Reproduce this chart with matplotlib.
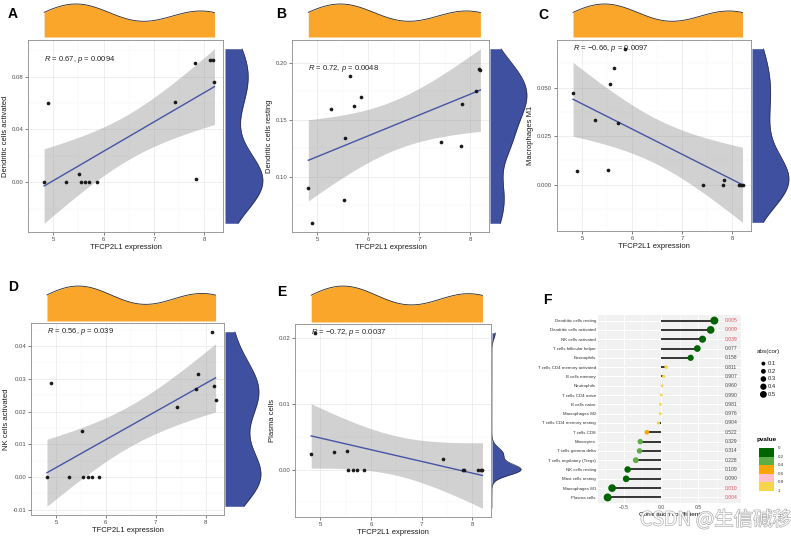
import numpy as np
import matplotlib
matplotlib.use('Agg')
import matplotlib.pyplot as plt
import matplotlib.patheffects as pe

plt.rcParams['font.family'] = ['Liberation Sans', 'DejaVu Sans']
plt.rcParams['mathtext.fontset'] = 'custom'
plt.rcParams['mathtext.it'] = 'Liberation Sans:italic'
plt.rcParams['mathtext.rm'] = 'Liberation Sans'

# ---- scatter data (TFCP2L1 expression vs immune cell fraction) ----
expr = np.array([4.82, 4.90, 5.26, 5.52, 5.55, 5.64, 5.72, 5.86, 7.42, 7.81, 7.84, 8.12, 8.17, 8.20])
dc_activated = np.array([0, 0.0598, 0, 0.0063, 0, 0, 0, 0, 0.061, 0.0903, 0.0023, 0.0928, 0.0928, 0.0755])
dc_resting = np.array([0.0899, 0.0593, 0.1597, 0.0797, 0.1339, 0.1884, 0.1623, 0.1704, 0.1304, 0.1272, 0.1638, 0.1757, 0.1950, 0.1936])
macro_m1 = np.array([0.0473, 0.0070, 0.0332, 0.0075, 0.0517, 0.0600, 0.0317, 0.0700, 0, 0, 0.0025, 0, 0, 0])
nk_activated = np.array([0, 0.0287, 0, 0.0139, 0, 0, 0, 0, 0.0214, 0.0270, 0.0316, 0.0444, 0.0279, 0.0236])
plasma = np.array([0.0023, 0.0208, 0.0026, 0.0028, 0, 0, 0, 0, 0.0016, 0, 0, 0, 0, 0])

ylabels = ["Dendritic cells activated", "Dendritic cells resting", "Macrophages M1",
           "NK cells activated", "Plasma cells"]
r_labels = ["0.67", "0.72", "\u22120.66", "0.56", "\u22120.72"]
p_labels = ["0.0094", "0.0048", "0.0097", "0.039", "0.0037"]
yticks = [[0.00, 0.04, 0.08], [0.10, 0.15, 0.20], [0.000, 0.025, 0.050],
          [-0.01, 0.00, 0.01, 0.02, 0.03, 0.04], [0.00, 0.01, 0.02]]
ytick_fmt = ["%.2f", "%.2f", "%.3f", "%.2f", "%.2f"]
letters = ["A", "B", "C", "D", "E"]

# ---- lollipop data (panel F) ----
cells = ["Dendritic cells resting", "Dendritic cells activated", "NK cells activated",
         "T cells follicular helper", "Eosinophils", "T cells CD4 memory activated",
         "B cells memory", "Neutrophils", "T cells CD4 naive", "B cells naive",
         "Macrophages M2", "T cells CD4 memory resting", "T cells CD8", "Monocytes",
         "T cells gamma delta", "T cells regulatory (Tregs)", "NK cells resting",
         "Mast cells resting", "Macrophages M1", "Plasma cells"]
cor = [0.72, 0.67, 0.56, 0.49, 0.40, 0.07, 0.035, 0.015, 0.004, -0.007,
       -0.009, -0.035, -0.19, -0.28, -0.29, -0.34, -0.45, -0.47, -0.66, -0.72]
pval = [0.005, 0.009, 0.039, 0.077, 0.158, 0.811, 0.907, 0.960, 0.990, 0.981,
        0.976, 0.904, 0.522, 0.329, 0.314, 0.228, 0.109, 0.090, 0.010, 0.004]
p_bins = [0, 0.2, 0.4, 0.6, 0.8, 1]
p_colors = ['#006400', '#5FAD45', '#FFA500', '#FFC0CB', '#F7D54A']
size_legend = [0.1, 0.2, 0.3, 0.4, 0.5]

W, H = 791, 538
T975 = 2.1788  # t quantile, df = 12
ORANGE = '#F9A62B'
BLUE = '#3F50A0'


def box(x0, y0, x1, y1):
    return [x0 / W, 1 - y1 / H, (x1 - x0) / W, (y1 - y0) / H]


def nrd0(v):
    sd = v.std(ddof=1)
    q75, q25 = np.percentile(v, [75, 25])
    lo = min(sd, (q75 - q25) / 1.34)
    if lo <= 0:
        lo = sd
    return 0.9 * lo * len(v) ** -0.2


def kde(v, grid):
    bw = nrd0(v)
    z = (grid[:, None] - v[None, :]) / bw
    return np.exp(-0.5 * z ** 2).sum(1) / (len(v) * bw * np.sqrt(2 * np.pi))


def lm_band(x, y, grid):
    n = len(x)
    xb = x.mean()
    sxx = ((x - xb) ** 2).sum()
    b = ((x - xb) * (y - y.mean())).sum() / sxx
    a = y.mean() - b * xb
    s = np.sqrt(((y - a - b * x) ** 2).sum() / (n - 2))
    fit = a + b * grid
    se = s * np.sqrt(1 / n + (grid - xb) ** 2 / sxx)
    return fit, fit - T975 * se, fit + T975 * se


fig = plt.figure(figsize=(W / 100, H / 100), dpi=100)

# main, top margin, right margin, letter position (pixels)
layout = [
    ((28, 40, 223, 232), (28, 3, 223, 37), (225, 40, 264, 232), (8, 14)),
    ((292, 40, 489, 232), (292, 3, 489, 37), (490, 40, 528, 232), (276, 14)),
    ((557, 40, 751, 231), (557, 3, 751, 37), (752, 40, 790, 231), (538, 15)),
    ((31, 323, 224, 515), (31, 285, 224, 321), (225, 323, 262, 515), (8, 287)),
    ((295, 324, 491, 517), (295, 285, 491, 322), (492, 324, 522, 517), (277, 292)),
]
series = [dc_activated, dc_resting, macro_m1, nk_activated, plasma]

for i, y in enumerate(series):
    mb, tb, rb, lp = layout[i]
    ax = fig.add_axes(box(*mb))
    grid = np.linspace(expr.min(), expr.max(), 100)
    fit, lo, hi = lm_band(expr, y, grid)
    ax.fill_between(grid, lo, hi, color='#999999', alpha=0.45, lw=0, zorder=2)
    ax.plot(grid, fit, color='#4555A5', lw=1.0, zorder=3)
    ax.scatter(expr, y, s=7, color='#1a1a1a', lw=0, zorder=4)

    xr = expr.max() - expr.min()
    ax.set_xlim(expr.min() - 0.05 * xr, expr.max() + 0.05 * xr)
    ylo = min(lo.min(), y.min())
    yhi = max(hi.max(), y.max())
    yr = yhi - ylo
    ax.set_ylim(ylo - 0.05 * yr, yhi + 0.05 * yr)

    ax.set_xticks([5, 6, 7, 8])
    ax.set_xticks([4.5, 5.5, 6.5, 7.5], minor=True)
    ax.set_yticks(yticks[i])
    ax.set_yticklabels([ytick_fmt[i] % t for t in yticks[i]])
    step = yticks[i][1] - yticks[i][0]
    ax.set_yticks([t + step / 2 for t in [yticks[i][0] - step] + yticks[i]], minor=True)
    ax.set_ylim(ylo - 0.05 * yr, yhi + 0.05 * yr)
    ax.grid(which='major', color='#EBEBEB', lw=0.6, zorder=0)
    ax.grid(which='minor', color='#F4F4F4', lw=0.35, zorder=0)
    ax.set_axisbelow(True)
    ax.tick_params(which='major', labelsize=4.3, colors='#4D4D4D', length=2, width=0.5, pad=1.5)
    ax.tick_params(which='minor', length=0)
    for sp in ax.spines.values():
        sp.set_color('#8c8c8c')
        sp.set_linewidth(0.6)
    ax.set_xlabel("TFCP2L1 expression", fontsize=5.5, labelpad=1.5, color='#1a1a1a')
    ax.set_ylabel(ylabels[i], fontsize=5.5, labelpad=2, color='#1a1a1a')
    ax.text(expr.min(), y.max(), "$R$ = %s, $p$ = %s" % (r_labels[i], p_labels[i]),
            fontsize=5.5, ha='left', va='center', color='#222222', zorder=5)

    # top marginal density of x
    axt = fig.add_axes(box(*tb), sharex=ax)
    dx = kde(expr, grid)
    axt.fill_between(grid, 0, dx, color=ORANGE, lw=0)
    axt.plot(grid, dx, color='#2a2a2a', lw=0.6)
    axt.set_ylim(0, dx.max() * 1.03)
    axt.axis('off')

    # right marginal density of y
    axr = fig.add_axes(box(*rb), sharey=ax)
    ygrid = np.linspace(ylo, yhi, 200)
    dy = kde(y, ygrid)
    axr.fill_betweenx(ygrid, 0, dy, color=BLUE, lw=0)
    axr.plot(dy, ygrid, color='#2a2a2a', lw=0.4)
    axr.set_xlim(0, dy.max() * 1.03)
    axr.axis('off')

    fig.text(lp[0] / W, 1 - lp[1] / H, letters[i], fontsize=10, fontweight='bold', va='center', ha='left')

# ---- panel F: lollipop ----
axf = fig.add_axes(box(598, 315, 741, 503))
axf.set_facecolor('#F1F1F1')
pos = np.arange(len(cells))
cols = [p_colors[min(int(p / 0.2), 4)] for p in pval]
sizes = [3.9 + 40.4 * abs(c) for c in cor]
axf.hlines(pos, 0, cor, color='black', lw=1.1, zorder=2)
axf.scatter(cor, pos, s=sizes, c=cols, lw=0, zorder=3)
for k, p in enumerate(pval):
    axf.text(0.86, k, "%.3f" % p, fontsize=3.6, va='center', ha='left',
             color='#E0505A' if p < 0.05 else '#4D4D4D')
axf.set_xlim(-0.85, 1.08)
axf.set_ylim(len(cells) - 0.4, -0.6)
axf.set_yticks(pos)
axf.set_yticklabels(cells)
axf.set_xticks([-0.5, 0.0, 0.5])
axf.set_xticks([-0.75, -0.25, 0.25, 0.75], minor=True)
axf.grid(which='major', color='white', lw=0.8, zorder=0)
axf.grid(which='minor', axis='x', color='white', lw=0.4, zorder=0)
axf.set_axisbelow(True)
axf.tick_params(axis='y', labelsize=3.2, length=0, pad=1.5, colors='#333333')
axf.tick_params(axis='x', labelsize=3.6, length=0, pad=1.5, colors='#4D4D4D')
axf.tick_params(which='minor', length=0)
for sp in axf.spines.values():
    sp.set_visible(False)
axf.set_xlabel("Correlation coefficient", fontsize=4.6, labelpad=1.5)
fig.text(543 / W, 1 - 300 / H, "F", fontsize=10, fontweight='bold', va='center', ha='left')

# size legend
fig.text(757 / W, 1 - 352 / H, "abs(cor)", fontsize=4.6, va='center', ha='left', color='#222222')
axs = fig.add_axes(box(757, 359, 790, 399))
axs.scatter([0] * len(size_legend), range(len(size_legend)),
            s=[3.9 + 40.4 * v for v in size_legend], color='black', lw=0)
for k, v in enumerate(size_legend):
    axs.text(0.8, k, str(v), fontsize=4.2, va='center', ha='left', color='#222222')
axs.set_xlim(-1.2, 5)
axs.set_ylim(len(size_legend) - 0.4, -0.6)
axs.axis('off')

# pvalue legend
fig.text(757 / W, 1 - 439 / H, "pvalue", fontsize=4.6, fontweight='bold', va='center', ha='left')
axc = fig.add_axes(box(759, 448, 774, 491))
for k, c in enumerate(p_colors):
    axc.axhspan(p_bins[k], p_bins[k + 1], color=c, lw=0)
axc.set_ylim(1, 0)
axc.set_xlim(0, 1)
axc.axis('off')
for b in p_bins:
    fig.text(778 / W, 1 - (448 + 43 * b) / H, "%g" % b, fontsize=3.2, va='center', ha='left', color='#333333')

# watermark
fig.text(640 / W, 1 - 520 / H, "CSDN @生信碱移", fontsize=14, va='center', ha='left',
         family=['Noto Sans CJK SC', 'DejaVu Sans'], color='white', alpha=0.9,
         path_effects=[pe.withStroke(linewidth=0.8, foreground='#9a9a9a')])

fig.savefig('out.png', dpi=100)
